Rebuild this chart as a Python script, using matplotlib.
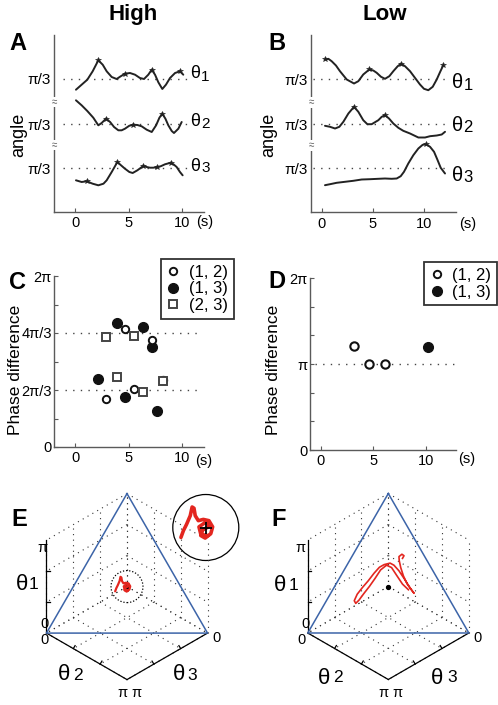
import numpy as np
import matplotlib.pyplot as plt
from matplotlib.lines import Line2D
from matplotlib.patches import Circle
import matplotlib.transforms as mtransforms

plt.rcParams['font.family'] = ['Liberation Sans', 'DejaVu Sans']

# ---------------- data ----------------
# A (High): angle traces, time in s, deviation from the pi/3 line (arb. units)
a1_t = [0.09, 0.62, 1.15, 1.65, 2.18, 2.59, 2.96, 3.43, 3.89, 4.27, 4.67, 5.14, 5.61,
        6.07, 6.45, 6.85, 7.17, 7.48, 7.79, 8.16, 8.5, 8.88, 9.35, 9.81, 10.12]
a1_y = [-10.7, -5.7, -0.7, 7.7, 18.7, 14.3, 7.7, 2, 0, 2.7, 5.3, 6, 4.3,
        1, 0, 4.3, 9.3, 4.3, -3.3, -10, -5.7, 1, 6, 7.7, 4.3]
a1_pk = [4, 10, 16, 23]
a2_t = [0.09, 0.62, 1.15, 1.71, 2.18, 2.49, 2.9, 3.28, 3.65, 4.05, 4.36, 4.67, 5.08, 5.45,
        5.83, 6.23, 6.7, 7.17, 7.58, 7.89, 8.16, 8.45, 8.72, 9.04, 9.25, 9.66, 9.97]
a2_y = [23.7, 18.7, 13, 6.3, -1.3, 1, 5.3, 2, -3, -6.3, -6.3, -4.7, -1.7, -0.7,
        -1, -2.3, -5.7, -8, -1.3, 6.3, 10.3, 5.3, -1.3, -7, -9, -4.7, 2]
a2_pk = [6, 13, 20]
a3_t = [0.09, 0.62, 1.09, 1.65, 2.18, 2.66, 2.96, 3.43, 3.96, 4.3, 4.67, 5.08, 5.39,
        5.83, 6.38, 6.7, 7.01, 7.32, 7.69, 8.0, 8.41, 8.94, 9.25, 9.5, 9.81, 10.06]
a3_y = [-12.3, -14, -13.3, -15.7, -17.3, -15.7, -12.3, -4, 6, 2.7, -0.7, -4, -5,
        -2.3, 2, 1, 0.3, 0.3, 1, 1.7, 3.7, 5.3, 3.3, 1, -4, -7.3]
a3_pk = [2, 8, 14, 18, 21]

# B (Low)
b1_t = [0.32, 0.65, 0.97, 1.39, 1.78, 2.44, 3.15, 3.57, 4.05, 4.64, 5.03, 5.36, 5.78, 6.17,
        6.59, 6.98, 7.41, 7.73, 8.12, 8.61, 9.09, 9.58, 9.97, 10.39, 10.82, 11.21, 11.53, 11.85]
b1_y = [20, 20.7, 18.3, 14, 8.3, 0, -4, -1.7, 5, 10, 9, 6.7, 2.7, 0.7,
        3.3, 8.3, 13.3, 15.7, 13.3, 8.3, 1.7, -5, -9.3, -10.7, -7.3, 0, 7.3, 14.3]
b1_pk = [0, 9, 17, 27]
b2_t = [0.32, 0.81, 1.3, 1.72, 2.11, 2.6, 3.15, 3.57, 4.05, 4.45, 4.87, 5.52, 5.85, 6.17,
        6.56, 6.98, 7.47, 7.95, 8.61, 9.42, 10.07, 10.56, 11.21, 11.7, 12.02]
b2_y = [-1.3, -2.3, -4, -2.3, 2.7, 11, 17.7, 12.7, 4.3, 0.3, 0.3, 4.3, 7.7, 9.3,
        6, 1, -3.3, -6.3, -9, -13, -13, -11.7, -11, -10, -7.3]
b2_pk = [6, 13]
b3_t = [0.32, 0.81, 1.46, 2.27, 3.08, 3.9, 4.71, 5.52, 6.17, 6.82, 7.31, 7.7, 8.02,
        8.44, 8.93, 9.42, 9.84, 10.17, 10.56, 10.95, 11.27, 11.6, 12.02]
b3_y = [-16.7, -15.7, -14.3, -13.3, -12.3, -11, -10.7, -10.3, -10, -10.3, -10, -7.7, -3.3,
        5, 13.3, 20, 23.7, 24.3, 21.7, 16.7, 9, 0.7, -5]
b3_pk = [17]

# C: phase differences (in units of pi)
c12_t = [2.9, 4.67, 5.51, 7.17, 8.25]
c12_v = [0.56, 1.377, 0.673, 1.25, 0.783]
c13_t = [2.12, 3.9, 4.67, 6.39, 7.17, 7.7]
c13_v = [0.797, 1.453, 0.59, 1.4, 1.167, 0.423]
c23_t = [2.9, 3.9, 5.55, 6.39, 8.25]
c23_v = [1.29, 0.823, 1.3, 0.643, 0.777]

# D
d12_t = [3.18, 4.64, 6.13]
d12_v = [1.21, 1.0, 1.0]
d13_t = [10.19]
d13_v = [1.197]

# E, F: trajectories projected on the (1,1,1) plane, rad, relative to centre
e_x = [-0.40, -0.36, -0.31, -0.25, -0.22, -0.19, -0.17, -0.12, -0.04, 0.05, 0.11, 0.08,
       -0.01, -0.08, -0.05, 0.04, 0.06, -0.01, -0.11, -0.08, 0.03]
e_y = [-0.16, -0.05, 0.05, 0.19, 0.33, 0.31, 0.19, 0.11, 0.13, 0.11, 0.01, -0.10,
       -0.17, -0.13, -0.04, 0.01, 0.06, 0.08, 0.01, -0.11, -0.13]
f_x = [0.48, 0.53, 0.46, 0.36, 0.37, 0.42, 0.51, 0.64, 0.87, 0.75, 0.56, 0.36, 0.19, 0.06,
       -0.14, -0.30, -0.48, -0.68, -0.87, -1.05, -1.15, -1.10, -0.99, -0.82, -0.64, -0.45,
       -0.26, -0.06, 0.11, 0.28, 0.48, 0.68]
f_y = [0.95, 1.04, 1.09, 1.01, 0.87, 0.64, 0.36, 0.08, -0.23, -0.07, 0.23, 0.53, 0.72, 0.79,
       0.74, 0.65, 0.45, 0.19, -0.03, -0.26, -0.48, -0.57, -0.46, -0.23, 0.0, 0.27,
       0.56, 0.72, 0.64, 0.38, 0.08, -0.11]

# ---------------- figure ----------------
W, H = 498, 705
fig = plt.figure(figsize=(W / 100, H / 100), dpi=100)
AX_COL = '#5a5a5a'
LINE_COL = '#222222'
RED = '#e3261f'
BLUE = '#3c64a8'


def px_axes(x0, y0, x1, y1):
    return fig.add_axes([x0 / W, 1 - y1 / H, (x1 - x0) / W, (y1 - y0) / H])


def ftext(x, y, s, **kw):
    kw.setdefault('ha', 'center')
    kw.setdefault('va', 'center')
    fig.text(x / W, 1 - y / H, s, **kw)


def theta(x, y, digit, big, small, dx, dy=0):
    ftext(x, y, 'θ', fontsize=big, ha='left')
    ftext(x + dx, y + dy, digit, fontsize=small, ha='left')


def style_axes(ax):
    for sp in ['top', 'right']:
        ax.spines[sp].set_visible(False)
    for sp in ['left', 'bottom']:
        ax.spines[sp].set_color(AX_COL)
        ax.spines[sp].set_linewidth(1.0)
    ax.tick_params(direction='in', length=3, color=AX_COL, labelsize=10.5, pad=3)
    ax.patch.set_visible(False)


def trace_panel(box, zero_px, px_per_s, traces, dot_span):
    ax = px_axes(*box)
    ax.set_xlim((box[0] - zero_px) / px_per_s, (box[2] - zero_px) / px_per_s)
    ax.set_ylim(0, box[3] - box[1])
    style_axes(ax)
    levels = [133, 88, 44]
    for lev, (t, y, pk) in zip(levels, traces):
        ax.plot(dot_span, [lev, lev], color='#444', lw=1.0, ls=(0, (1, 4.5)))
        ax.plot(t, np.array(y) + lev, color=LINE_COL, lw=1.4, solid_capstyle='round',
                solid_joinstyle='round')
        ax.plot(np.array(t)[pk], np.array(y)[pk] + lev, ls='none', marker='*', ms=4,
                color=LINE_COL, mew=0.4)
    ax.set_xticks([0, 5, 10])
    ax.set_yticks(levels)
    ax.set_yticklabels(['π/3'] * 3)
    ax.tick_params(axis='y', length=0, pad=2, labelsize=11)
    tr = mtransforms.blended_transform_factory(ax.transAxes, ax.transData)
    for yb in [110, 67]:
        ax.text(0, yb, '≈', transform=tr, ha='center', va='center', fontsize=7,
                color=AX_COL, bbox=dict(fc='white', ec='none', pad=0.2))
    return ax


def phase_panel(box, zero_px, px_per_s, dots, labels):
    ax = px_axes(*box)
    ax.set_xlim((box[0] - zero_px) / px_per_s, (box[2] - zero_px) / px_per_s)
    ax.set_ylim(0, 2 * np.pi)
    style_axes(ax)
    ax.set_xticks([0, 5, 10])
    ticks = np.arange(7) * np.pi / 3
    ax.set_yticks(ticks)
    ax.set_yticklabels(labels)
    ax.tick_params(axis='y', pad=1.5, labelsize=10.5)
    for y in dots[0]:
        ax.plot(dots[1], [y, y], color='#444', lw=1.0, ls=(0, (1, 4.5)))
    return ax


# ---- A ----
axA = trace_panel((54, 35, 204, 212), 75, 10.7,
                  [(a1_t, a1_y, a1_pk), (a2_t, a2_y, a2_pk), (a3_t, a3_y, a3_pk)],
                  [-1.1, 10.5])
# ---- B ----
axB = trace_panel((311, 35, 455.7, 212.5), 321.7, 10.26,
                  [(b1_t, b1_y, b1_pk), (b2_t, b2_y, b2_pk), (b3_t, b3_y, b3_pk)],
                  [-0.85, 12.5])

theta(190, 74, '1', 13, 11, 11, 3)
theta(190, 121.5, '2', 13, 11, 11, 2)
theta(190, 166.5, '3', 13, 11, 11, 2)
theta(452, 83, '1', 14.5, 12, 12, 2)
theta(452, 125.5, '2', 14.5, 12, 11.5, 2)
theta(452, 175.5, '3', 14.5, 12, 11.5, 2)

# ---- C ----
c_labels = ['0', '', '2π/3', '', '4π/3', '', '2π']
axC = phase_panel((54, 276, 204, 447), 75, 10.7,
                  ([2 * np.pi / 3, 4 * np.pi / 3], [-0.93, 11.4]), c_labels)
axC.plot(np.array(c13_t), np.array(c13_v) * np.pi, 'o', ms=7, color='#111', mec='#111')
axC.plot(np.array(c12_t), np.array(c12_v) * np.pi, 'o', ms=5.3, mfc='white', mec='#111',
         mew=1.4)
axC.plot(np.array(c23_t), np.array(c23_v) * np.pi, 's', ms=5.3, mfc='white', mec='#444',
         mew=1.4)
h12 = Line2D([], [], ls='none', marker='o', ms=5.3, mfc='white', mec='#111', mew=1.4)
h13 = Line2D([], [], ls='none', marker='o', ms=7, color='#111')
h23 = Line2D([], [], ls='none', marker='s', ms=5.3, mfc='white', mec='#444', mew=1.4)
leg_kw = dict(loc='upper left', bbox_transform=fig.transFigure, fontsize=12, frameon=True,
              fancybox=False, borderaxespad=0, handlelength=0.8, handletextpad=0.55,
              labelspacing=0.1, borderpad=0.35)
legC = axC.legend([h12, h13, h23], ['(1, 2)', '(1, 3)', '(2, 3)'],
                  bbox_to_anchor=(160.7 / W, 1 - 259 / H), **leg_kw)
legC.get_frame().set_edgecolor('black')
legC.get_frame().set_linewidth(1.3)

# ---- D ----
d_labels = ['0', '', '', 'π', '', '', '2π']
axD = phase_panel((310, 278, 455.7, 450), 320.5, 10.52,
                  ([np.pi], [-0.5, 12.85]), d_labels)
axD.plot(np.array(d12_t), np.array(d12_v) * np.pi, 'o', ms=6, mfc='white', mec='#111',
         mew=1.5)
axD.plot(np.array(d13_t), np.array(d13_v) * np.pi, 'o', ms=7, color='#111')
legD = axD.legend([h12, h13], ['(1, 2)', '(1, 3)'],
                  bbox_to_anchor=(424 / W, 1 - 262 / H), **leg_kw)
legD.get_frame().set_edgecolor('black')
legD.get_frame().set_linewidth(1.3)

for x, y in [(205, 222.5), (468, 223.5), (204, 461), (467, 459)]:
    ftext(x, y, '(s)', fontsize=10.5)

# ---- E, F: isometric view of the cube [0, pi]^3 ----
K = 29.6  # px per rad
E1 = np.array([0.0, 1.0])
E2 = np.array([np.cos(np.pi / 6), -0.5])
E3 = np.array([-np.cos(np.pi / 6), -0.5])


def proj(t1, t2, t3):
    t1, t2, t3 = np.broadcast_arrays(t1, t2, t3)
    return t1 * E1[0] + t2 * E2[0] + t3 * E3[0], t1 * E1[1] + t2 * E2[1] + t3 * E3[1]


def cube_panel(x0, x1, cx, cy):
    ax = px_axes(x0, 470, x1, 705)
    ax.set_xlim((x0 - cx) / K, (x1 - cx) / K)
    ax.set_ylim((cy - 705) / K, (cy - 470) / K)
    ax.axis('off')
    pi = np.pi
    run = np.array([0, pi])
    dot = dict(color='#333', lw=0.8, ls=(0, (1, 4)))
    for c in np.linspace(0, pi, 4):
        for a, b in [(run, c), (c, run)]:
            ax.plot(*proj(0, a, b), **dot)
            ax.plot(*proj(a, 0, b), **dot)
            ax.plot(*proj(a, b, 0), **dot)
    # axes
    ax.plot(*proj(run, 0, pi), color='k', lw=0.9)
    ax.plot(*proj(0, run, pi), color='k', lw=0.9)
    ax.plot(*proj(0, pi, run), color='k', lw=0.9)
    for c in [pi / 3, 2 * pi / 3]:
        x, y = proj(c, 0, pi)
        ax.plot([x, x + 0.12], [y, y], color='k', lw=0.9)
        x, y = proj(0, c, pi)
        ax.plot([x, x + 0.06], [y, y + 0.1], color='k', lw=0.9)
        x, y = proj(0, pi, c)
        ax.plot([x, x - 0.06], [y, y + 0.1], color='k', lw=0.9)
    tx, ty = proj([pi, 0, 0, pi], [0, pi, 0, 0], [0, 0, pi, 0])
    ax.plot(tx, ty, color=BLUE, lw=1.1)
    ax.plot(0, 0, 'o', ms=2.8, color='k')
    return ax


axE = cube_panel(0, 249, 127, 586.6)
axE.add_patch(Circle((0, 0), 16 / K, fill=False, ec='k', lw=0.9, ls=(0, (1, 1.5))))
axE.plot(e_x, e_y, color=RED, lw=1.6, solid_capstyle='round', solid_joinstyle='round')
ins_c = np.array([(205.8 - 127) / K, (586.6 - 527.5) / K])
mag = 2.1
axE.add_patch(Circle(ins_c, 33 / K, fill=False, ec='k', lw=0.9, clip_on=False))
axE.plot(ins_c[0] + mag * np.array(e_x), ins_c[1] + mag * np.array(e_y), color=RED,
         lw=2.6, solid_capstyle='round', solid_joinstyle='round', clip_on=False)
axE.plot(*ins_c, marker='+', ms=9, mew=1.3, color='k')

axF = cube_panel(249, 498, 388.3, 586.5)
axF.plot(f_x, f_y, color=RED, lw=1.2, solid_joinstyle='round')

# labels for E and F
for ox in [0, 261]:
    ftext(42 + ox * 0.99, 548, 'π', fontsize=10.5)
    ftext(44 + ox, 624.5, '0', fontsize=10.5)
    ftext(44 + ox * 0.985, 640, '0', fontsize=10.5)
    ftext(216 + ox, 638.5, '0', fontsize=10.5)
    ftext(122 + ox, 693, 'π', fontsize=10.5)
    ftext(136 + ox, 693, 'π', fontsize=10.5)
theta(16, 584.5, '1', 16, 12.5, 13)
theta(57.5, 675, '2', 16, 12.5, 16)
theta(172.5, 675, '3', 16, 12.5, 14.5)
theta(274, 585.5, '1', 16, 12.5, 15)
theta(317.5, 678, '2', 16, 12.5, 15.5)
theta(431, 678, '3', 16, 12.5, 16.5)

# ---- panel letters, titles, y labels ----
for s, x, y in [('A', 18.3, 43.3), ('B', 276.7, 43.3), ('C', 17.5, 282.5),
                ('D', 276.7, 281.7), ('E', 19.2, 520), ('F', 278.3, 519)]:
    ftext(x, y, s, fontsize=17, fontweight='bold')
ftext(133, 14.5, 'High', fontsize=16, fontweight='bold')
ftext(385, 14.5, 'Low', fontsize=16, fontweight='bold')
ftext(19, 135, 'angle', fontsize=13, rotation=90)
ftext(269, 135, 'angle', fontsize=13, rotation=90)
ftext(16, 370, 'Phase difference', fontsize=12.5, rotation=90)
ftext(273, 370, 'Phase difference', fontsize=12.5, rotation=90)

fig.savefig('out.png', dpi=100)
